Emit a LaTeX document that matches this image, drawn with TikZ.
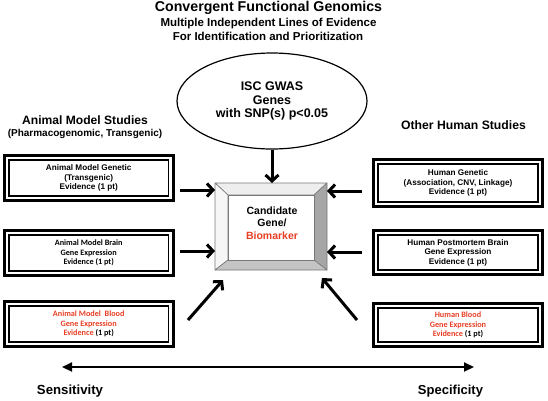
\documentclass[tikz,border=0pt]{standalone}
\usepackage{fontspec}
\setmainfont{Liberation Sans}
\newfontfamily\calib{Carlito}
\usetikzlibrary{shapes.geometric,arrows.meta}
\definecolor{evred}{RGB}{232,62,36}
\definecolor{bevtop}{RGB}{238,238,238}
\definecolor{bevleft}{RGB}{246,246,246}
\definecolor{bevright}{RGB}{166,166,166}
\definecolor{bevbot}{RGB}{196,196,196}
\definecolor{bevline}{RGB}{120,120,120}
\begin{document}
\begin{tikzpicture}[x=1pt,y=-1pt,
  bigarrow/.style={line width=3pt,-{Straight Barb[length=6pt,width=13pt]}},
  evbox/.style={draw,line width=3.2pt,inner sep=0pt,outer sep=0pt,align=center,
    font=\bfseries\fontsize{8.2}{9.6}\selectfont,
    path picture={\draw[line width=1.7pt]
      ([shift={(4.8pt,-4.8pt)}]path picture bounding box.north west) rectangle
      ([shift={(-4.8pt,4.8pt)}]path picture bounding box.south east);}},
  evboxc/.style={evbox,font=\calib\bfseries\fontsize{8.2}{9.6}\selectfont},
  head/.style={anchor=base,font=\bfseries\fontsize{#1}{#1}\selectfont},
]
\useasboundingbox (0,0) rectangle (548,400);
\fill[white] (0,0) rectangle (548,400);

% titles
\node[head=14.2] (title) at (268.5,11) {Convergent Functional Genomics};
\node[head=11.5] (sub1) at (268.5,26) {Multiple Independent Lines of Evidence};
\node[head=11.5] (sub2) at (268,40.5) {For Identification and Prioritization};

% side headings
\node[head=12.1] (amh) at (85,124) {Animal Model Studies};
\node[head=10] (amh2) at (85,136) {(Pharmacogenomic, Transgenic)};
\node[head=12.2] (ohh) at (463.5,129) {Other Human Studies};

% ellipse
\node[ellipse,draw,line width=1.2pt,minimum width=190pt,minimum height=96pt,inner sep=0pt,
  align=center,font=\bfseries\fontsize{12.5}{13.7}\selectfont] (gwas) at (272,101)
  {ISC GWAS\\Genes\\with SNP(s) p<0.05};

% evidence boxes
\node[evbox,minimum width=169pt,minimum height=45pt] (b1) at (88.7,178)
  {Animal Model Genetic\\(Transgenic)\\Evidence (1 pt)};
\node[evboxc,minimum width=169pt,minimum height=45pt] (b2) at (88.7,253)
  {Animal Model Brain\\Gene Expression\\Evidence (1 pt)};
\node[evboxc,minimum width=169pt,minimum height=45pt] (b3) at (88.7,324)
  {\textcolor{evred}{Animal Model\ \ Blood}\\\textcolor{evred}{Gene Expression}\\\textcolor{evred}{Evidence} (1 pt)};
\node[evbox,minimum width=169pt,minimum height=47pt] (r1) at (458,183)
  {Human Genetic\\(Association, CNV, Linkage)\\Evidence (1 pt)};
\node[evbox,minimum width=169pt,minimum height=44pt] (r2) at (458,252.5)
  {Human Postmortem Brain\\Gene Expression\\Evidence (1 pt)};
\node[evboxc,minimum width=169pt,minimum height=43pt] (r3) at (458,325)
  {\textcolor{evred}{Human Blood}\\\textcolor{evred}{Gene Expression}\\\textcolor{evred}{Evidence} (1 pt)};

% central bevelled box
\node[minimum width=112pt,minimum height=87pt,inner sep=0pt,outer sep=0pt] (cbox) at (271,226.5) {};
\coordinate (fnw) at (228,195);
\coordinate (fne) at (314,195);
\coordinate (fse) at (314,260);
\coordinate (fsw) at (228,260);
\begin{scope}[draw=bevline,line width=0.6pt,line join=round]
\filldraw[fill=bevtop] (cbox.north west) -- (cbox.north east) -- (fne) -- (fnw) -- cycle;
\filldraw[fill=bevleft] (cbox.north west) -- (fnw) -- (fsw) -- (cbox.south west) -- cycle;
\filldraw[fill=bevright] (cbox.north east) -- (cbox.south east) -- (fse) -- (fne) -- cycle;
\filldraw[fill=bevbot] (cbox.south west) -- (fsw) -- (fse) -- (cbox.south east) -- cycle;
\filldraw[fill=white] (fnw) -- (fne) -- (fse) -- (fsw) -- cycle;
\end{scope}
\node[align=center,font=\bfseries\fontsize{10.5}{12.5}\selectfont] (cand) at (272,223)
  {Candidate\\Gene/\\\textcolor{evred}{Biomarker}};

% arrows into the central box
\draw[bigarrow] (gwas.south) -- (gwas.south |- cbox.north);
\coordinate (la1) at (180,190);
\coordinate (la2) at (180,251);
\coordinate (ra1) at (362,191);
\coordinate (ra2) at (362,252);
\draw[bigarrow] (la1) -- (cbox.west |- la1);
\draw[bigarrow] (la2) -- (cbox.west |- la2);
\draw[bigarrow] (ra1) -- (cbox.east |- ra1);
\draw[bigarrow] (ra2) -- (cbox.east |- ra2);
\coordinate (ld1) at (188,320);
\coordinate (ld2) at (223,280);
\coordinate (rd1) at (357,320);
\coordinate (rd2) at (322,278);
\draw[bigarrow] (ld1) -- (ld2);
\draw[bigarrow] (rd1) -- (rd2);

% sensitivity / specificity axis
\coordinate (sl) at (62,367);
\coordinate (sr) at (474,367);
\draw[line width=2pt,{Triangle[length=10pt,width=9pt]}-{Triangle[length=10pt,width=9pt]}] (sl) -- (sr);
\node[head=13.2] (sens) at (70,394) {Sensitivity};
\node[head=13] (spec) at (450.5,394) {Specificity};
\end{tikzpicture}
\end{document}
